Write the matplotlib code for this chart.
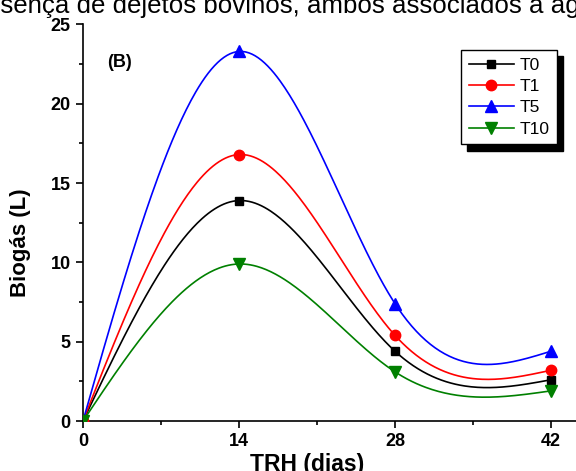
import numpy as np
import matplotlib
matplotlib.use("Agg")
import matplotlib.pyplot as plt
from matplotlib.ticker import MultipleLocator

days = [0, 14, 28, 42]
series_names = ["T0", "T1", "T5", "T10"]
t0 = [0.0, 13.9, 4.4, 2.6]
t1 = [0.0, 16.8, 5.4, 3.2]
t5 = [0.0, 23.3, 7.4, 4.4]
t10 = [0.0, 9.9, 3.1, 1.9]
colors = ["black", "red", "blue", "green"]
markers = ["s", "o", "^", "v"]
msizes = [6, 7.5, 8, 8]


def natural_spline(x, y, xs):
    x = np.asarray(x, float); y = np.asarray(y, float)
    n = len(x)
    h = np.diff(x)
    A = np.zeros((n, n)); b = np.zeros(n)
    A[0, 0] = 1; A[-1, -1] = 1
    for i in range(1, n - 1):
        A[i, i - 1] = h[i - 1]; A[i, i] = 2 * (h[i - 1] + h[i]); A[i, i + 1] = h[i]
        b[i] = 6 * ((y[i + 1] - y[i]) / h[i] - (y[i] - y[i - 1]) / h[i - 1])
    M = np.linalg.solve(A, b)
    out = np.empty_like(xs)
    for k, xv in enumerate(xs):
        i = min(np.searchsorted(x, xv, side='right') - 1, n - 2)
        i = max(i, 0)
        t1_ = x[i + 1] - xv; t2_ = xv - x[i]
        out[k] = (M[i] * t1_**3 + M[i + 1] * t2_**3) / (6 * h[i]) \
            + (y[i] / h[i] - M[i] * h[i] / 6) * t1_ + (y[i + 1] / h[i] - M[i + 1] * h[i] / 6) * t2_
    return out


plt.rcParams['font.family'] = ['Liberation Sans', 'DejaVu Sans']
fig = plt.figure(figsize=(5.76, 4.71), dpi=100)
px_per_day = 156 / 14
ax = fig.add_axes([83 / 576, 50 / 471, 45 * px_per_day / 576, 396.5 / 471])

xs = np.linspace(0, 42, 300)
handles = []
for name, vals, c, m, ms in zip(series_names, [t0, t1, t5, t10], colors, markers, msizes):
    ys = natural_spline(days, vals, xs)
    ax.plot(xs, ys, color=c, lw=1.2, zorder=2)
    ax.plot(days, vals, ls='none', marker=m, color=c, ms=ms, zorder=3)
    h, = ax.plot([], [], color=c, lw=1.2, marker=m, ms=ms, label=name)
    handles.append(h)

ax.set_xlim(0, 45)
ax.set_ylim(0, 25)
ax.spines['top'].set_visible(False)
ax.spines['right'].set_visible(False)
for s in ['left', 'bottom']:
    ax.spines[s].set_linewidth(1.2)
ax.xaxis.set_major_locator(MultipleLocator(14))
ax.xaxis.set_minor_locator(MultipleLocator(7))
ax.yaxis.set_major_locator(MultipleLocator(5))
ax.yaxis.set_minor_locator(MultipleLocator(2.5))
ax.set_xticks([0, 14, 28, 42])
ax.tick_params(which='major', direction='out', length=5, width=1.2, labelsize=13, pad=4)
ax.tick_params(which='minor', direction='out', length=3, width=1.2)
for lab in ax.get_xticklabels() + ax.get_yticklabels():
    lab.set_fontweight('bold')

fig.text(307 / 576, 1 - 465 / 471, "TRH (dias)", ha='center', va='center', fontsize=16.5, fontweight='bold')
fig.text(21 / 576, 1 - 243 / 471, "Biogás (L)", ha='center', va='center', rotation=90, fontsize=16, fontweight='bold')
ax.text(2.2, 22.6, "(B)", fontsize=13, fontweight='bold', ha='left', va='center')

fig.text(-37 / 576, 1 - 13 / 471, "presença de dejetos bovinos, ambos associados à água", ha='left', va='baseline', fontsize=18.6)

leg = ax.legend(handles=handles, loc='upper left', bbox_to_anchor=(461 / 576, 1 - 50 / 471),
                bbox_transform=fig.transFigure,
                frameon=True, fancybox=False, shadow={'color': 'black', 'alpha': 1, 'ox': 4.5, 'oy': -4.5},
                edgecolor='black',
                fontsize=12.5, handlelength=2.6, borderpad=0.45, labelspacing=0.35, handletextpad=0.3,
                borderaxespad=0)
leg.get_frame().set_linewidth(1.0)

fig.savefig("out.png", dpi=100)
